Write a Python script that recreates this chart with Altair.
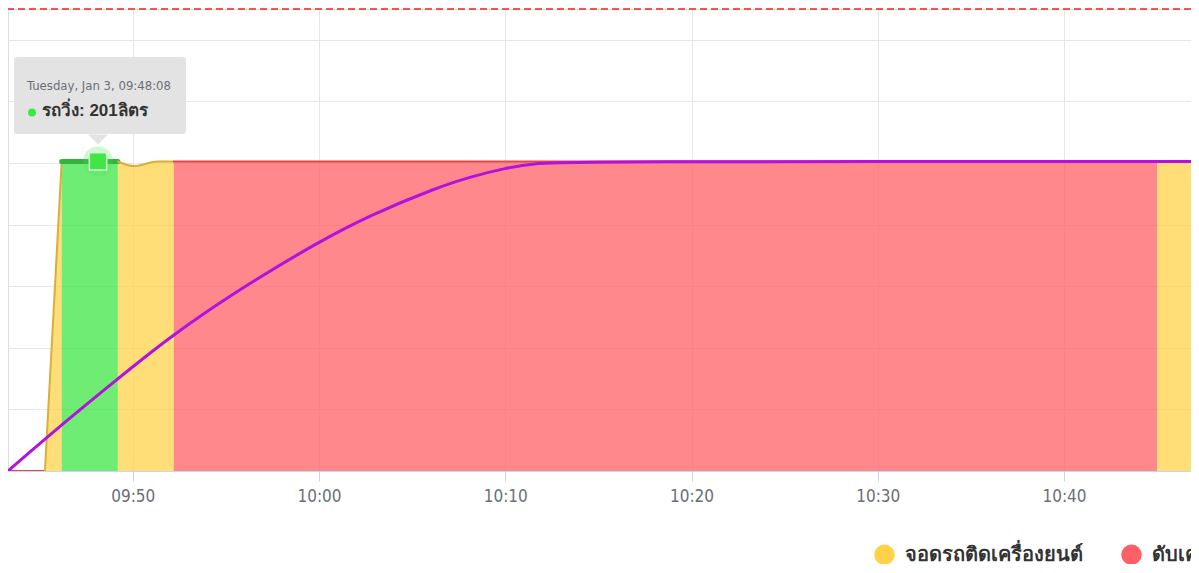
import altair as alt
import pandas as pd
from datetime import datetime

DAY = "2023-01-03"

# ---- data -------------------------------------------------------------
state_names = ["จอดรถติดเครื่องยนต์", "ดับเครื่องยนต์", "รถวิ่ง"]
state_colors = ["#FFD24A", "#FF6067", "#3FE646"]
state_line_colors = ["#D9AE3A", "#E04848", "#33B23C"]

fuel_time = ["09:43:18", "09:45:17", "09:46:11", "09:48:08", "09:49:12", "09:50:05",
             "09:51:20", "09:52:12", "10:45:00", "10:47:05", "10:47:11"]
fuel_litre = [0, 0, 201, 201, 201, 198, 201, 201, 201, 201, 201]

zone_end = ["09:45:17", "09:46:11", "09:49:12", "09:52:12", "10:45:00", "10:47:05", "10:47:11"]
zone_state = ["ดับเครื่องยนต์", "จอดรถติดเครื่องยนต์", "รถวิ่ง", "จอดรถติดเครื่องยนต์",
              "ดับเครื่องยนต์", "จอดรถติดเครื่องยนต์", "รถวิ่ง"]

trend_time = ["09:43:18", "09:45:17", "09:49:12", "09:51:59", "09:55:35", "10:00:00",
              "10:02:43", "10:06:19", "10:08:05", "10:09:57", "10:11:40", "10:13:27",
              "10:47:11"]
trend_litre = [0, 21, 60, 87, 117, 149, 166, 184, 190.9, 196.6, 199.9, 201, 201]

capacity_litre = 300
y_ticks = list(range(0, 301, 20))
x_tick_labels = ["09:50", "10:00", "10:10", "10:20", "10:30", "10:40"]
x_start, x_end = "09:43:18", "10:46:49"

hover_time = "09:48:08"
hover_litre = 201
hover_state = "รถวิ่ง"

# ---- tables -----------------------------------------------------------
rows = []
start = fuel_time[0]
for i, (end, st) in enumerate(zip(zone_end, zone_state)):
    k = state_names.index(st)
    for t, v in zip(fuel_time, fuel_litre):
        if start <= t <= end:
            rows.append({"time": f"{DAY}T{t}", "litre": v, "state": st, "seg": i,
                         "lcolor": state_line_colors[k],
                         "lwidth": 5 if st == "รถวิ่ง" else 2})
    start = end
zones = pd.DataFrame(rows)

trend = pd.DataFrame({"time": [f"{DAY}T{t}" for t in trend_time], "litre": trend_litre})

hdt = datetime.strptime(f"{DAY} {hover_time}", "%Y-%m-%d %H:%M:%S")
hover = pd.DataFrame({
    "time": [f"{DAY}T{hover_time}"], "litre": [hover_litre],
    "head": [hdt.strftime("%A, %b ") + str(hdt.day) + hdt.strftime(", %H:%M:%S")],
    "body": [f"{hover_state}: {hover_litre}ลิตร"],
})


def dt(hms):
    p = [int(v) for v in hms.split(":")]
    return alt.DateTime(year=2023, month=1, date=3, hours=p[0], minutes=p[1],
                        seconds=p[2] if len(p) > 2 else 0)


NARROW = "DejaVu Sans Condensed, Liberation Sans Narrow, Roboto Condensed, sans-serif"

xscale = alt.Scale(domain=[dt(x_start), dt(x_end)], nice=False)
yscale = alt.Scale(domain=[0, 300], nice=False)

x_enc = alt.X("time:T", scale=xscale, title=None,
              axis=alt.Axis(values=[dt(v) for v in x_tick_labels], format="%H:%M",
                            grid=True, gridColor="#e6e6e6", domainColor="#ccd6eb",
                            tickColor="#ccd6eb", tickSize=10, labelFont=NARROW,
                            labelFontSize=17, labelColor="#6a6e78", labelPadding=7,
                            labelFlush=False))
y_enc = alt.Y("litre:Q", scale=yscale, stack=None, title=None,
              axis=alt.Axis(values=y_ticks, labels=False, ticks=False, domain=False,
                            grid=True, gridColor="#e6e6e6"))

base = alt.Chart(zones)

areas = base.mark_area(fillOpacity=0.75, interpolate="monotone", clip=True).encode(
    x=x_enc, y=y_enc,
    fill=alt.Fill("state:N", scale=alt.Scale(domain=state_names, range=state_colors),
                  legend=alt.Legend(orient="none", legendX=866, legendY=535,
                                    direction="horizontal", title=None,
                                    symbolType="circle", symbolSize=420,
                                    symbolOpacity=1, symbolStrokeWidth=0,
                                    labelFontSize=20, labelFontWeight="bold",
                                    labelColor="#333333", labelOffset=10,
                                    columnPadding=38, labelLimit=0)),
    detail="seg:N",
)

lines = base.mark_line(interpolate="monotone", strokeCap="round", clip=True).encode(
    x="time:T", y="litre:Q",
    stroke=alt.Stroke("lcolor:N", scale=None),
    strokeWidth=alt.StrokeWidth("lwidth:Q", scale=None),
    detail="seg:N",
)

trend_line = alt.Chart(trend).mark_line(interpolate="basis", color="#B312DC",
                                        strokeWidth=3, clip=True).encode(
    x="time:T", y="litre:Q")

cap_rule = alt.Chart(pd.DataFrame({"cap": [capacity_litre]})).mark_rule(
    color="#ff1a1a", strokeDash=[7, 4], strokeWidth=1.5).encode(y="cap:Q")

hv = alt.Chart(hover)
halo = hv.mark_point(shape="circle", filled=True, size=900, color="#3FE646",
                     opacity=0.25).encode(x="time:T", y="litre:Q")
marker = hv.mark_point(shape="square", filled=True, size=300, fill="#3FE646",
                       stroke="#d8f7da", strokeWidth=1.5, opacity=1).encode(
    x="time:T", y="litre:Q")
tip_box = hv.mark_rect(width=172, height=77, cornerRadius=3, color="#e3e3e3",
                       xOffset=2, yOffset=-66).encode(x="time:T", y="litre:Q")
tip_arrow = hv.mark_point(shape="M-1,-1L1,-1L0,0Z", size=400, filled=True,
                          color="#e3e3e3", opacity=1, yOffset=-17).encode(
    x="time:T", y="litre:Q")
tip_head = hv.mark_text(align="left", baseline="middle", dx=-71, dy=-75,
                        font=NARROW, fontSize=13, color="#6a6e78").encode(
    x="time:T", y="litre:Q", text="head:N")
tip_dot = hv.mark_point(shape="circle", filled=True, size=64, color="#3FE646",
                        opacity=1, xOffset=-66, yOffset=-49).encode(
    x="time:T", y="litre:Q")
tip_body = hv.mark_text(align="left", baseline="middle", dx=-56, dy=-50,
                        fontSize=17, fontWeight="bold", color="#333333").encode(
    x="time:T", y="litre:Q", text="body:N")

chart = alt.layer(
    areas, lines, trend_line, cap_rule, halo, marker,
    tip_box, tip_arrow, tip_head, tip_dot, tip_body,
).properties(
    width=1183, height=462,
    autosize=alt.AutoSizeParams(type="none"),
    padding={"left": 0, "top": 1, "right": 0, "bottom": 93},
).configure_view(stroke=None).configure(background="white")

chart.save("out.html", embed_options={"renderer": "svg", "actions": False})
